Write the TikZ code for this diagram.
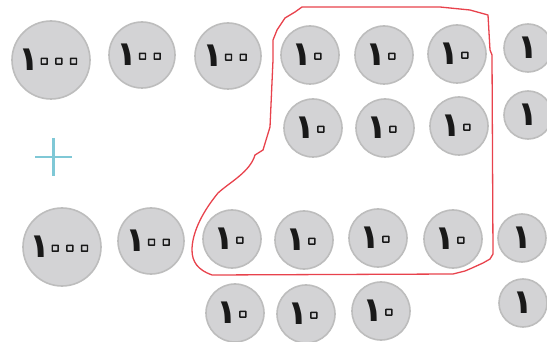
\documentclass[tikz,border=0pt]{standalone}
\usepackage{fontspec}
\newfontfamily\digitfont{DejaVu Sans Bold}[LetterSpace=-18]
\newcommand\hollowdigits[1]{\kern-5pt\special{pdf:code 1 Tr 1.4 w 1 j}#1\special{pdf:code 0 Tr 0 j}}
\definecolor{coinfill}{HTML}{D3D3D5}
\definecolor{coinedge}{HTML}{BDBDBD}
\definecolor{loopred}{HTML}{E8424C}
\definecolor{plusblue}{HTML}{7FC8D6}
\tikzset{
  coin/.style={circle, fill=coinfill, draw=coinedge, line width=1.6pt, inner sep=0pt,
     font=\digitfont\fontsize{34}{34}\selectfont, text=black!90},
  big/.style={coin, minimum size=78pt},
  mid/.style={coin, minimum size=66pt},
  ten/.style={coin, minimum size=58pt},
  one/.style={coin, minimum size=48pt},
}
\begin{document}
\begin{tikzpicture}[x=1pt,y=-1pt]
\useasboundingbox (0,0) rectangle (547,342);
% row 1
\node[big] (a1) at (51,60) {١\hollowdigits{٠٠٠}};
\node[mid] (a2) at (142,55) {١\hollowdigits{٠٠}};
\node[mid] (a3) at (228,56) {١\hollowdigits{٠٠}};
\node[ten] (a4) at (310,55) {١\hollowdigits{٠}};
\node[ten] (a5) at (384,55) {١\hollowdigits{٠}};
\node[ten] (a6) at (457,54) {١\hollowdigits{٠}};
\node[one] (a7) at (528,48) {١};
% row 2
\node[ten] (b1) at (313,128) {١\hollowdigits{٠}};
\node[ten] (b2) at (385,128) {١\hollowdigits{٠}};
\node[ten] (b3) at (459,126) {١\hollowdigits{٠}};
\node[one] (b4) at (528,115) {١};
% row 3
\node[big] (c1) at (62,247) {١\hollowdigits{٠٠٠}};
\node[mid] (c2) at (151,241) {١\hollowdigits{٠٠}};
\node[ten] (c3) at (232,239) {١\hollowdigits{٠}};
\node[ten] (c4) at (304,240) {١\hollowdigits{٠}};
\node[ten] (c5) at (378,238) {١\hollowdigits{٠}};
\node[ten] (c6) at (453,239) {١\hollowdigits{٠}};
\node[one] (c7) at (522,238) {١};
% row 4
\node[ten] (d1) at (235,313) {١\hollowdigits{٠}};
\node[ten] (d2) at (306,314) {١\hollowdigits{٠}};
\node[ten] (d3) at (381,311) {١\hollowdigits{٠}};
\node[one] (d4) at (523,303) {١};
% plus
\draw[plusblue, line width=2.6pt] (35,157) -- (72,157) (53.5,138) -- (53.5,176);
% red loop
\draw[loopred, line width=1.3pt, line join=round]
  (270,127) -- (273,60) -- (273,40) -- (277,30) -- (285,18) -- (295,12) -- (302,7)
  -- (440,7) -- (470,10) -- (488,15) -- (490,50) -- (492,55) -- (493,254)
  -- (490,259) -- (483,263) -- (472,268) -- (465,271) -- (453,274) -- (212,275)
  .. controls (198,270) and (192,262) .. (192,250)
  .. controls (192,235) and (200,215) .. (218,193)
  .. controls (230,182) and (250,172) .. (255,155)
  -- (263,150) -- cycle;
\end{tikzpicture}
\end{document}
